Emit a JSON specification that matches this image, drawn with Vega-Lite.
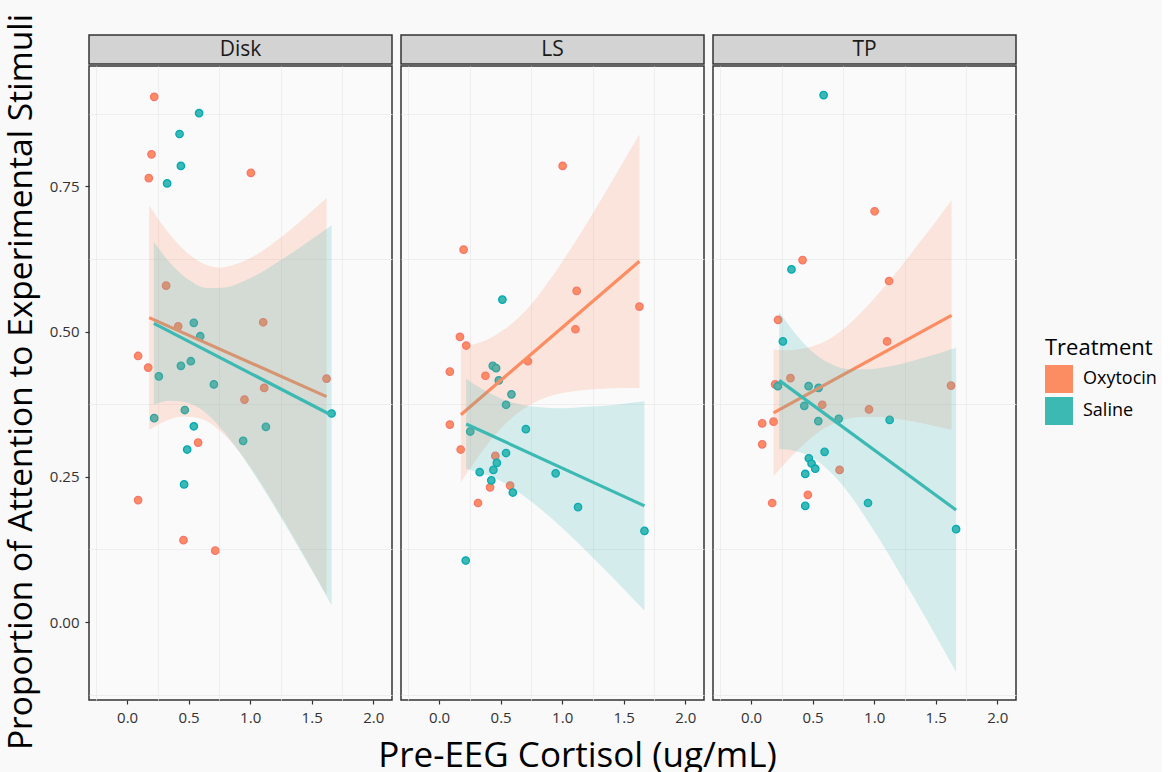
{
  "$schema": "https://vega.github.io/schema/vega-lite/v6.json",
  "background": "#f9f9f9",
  "padding": {"left": 5, "top": 13, "right": 5, "bottom": 2},
  "title": {"text": "Proportion of Attention to Experimental Stimuli", "orient": "left", "anchor": "middle", "fontSize": 33.5, "fontWeight": "normal", "font": "Open Sans", "color": "#000000", "offset": 9, "dx": 22},
  "spacing": 0,
  "datasets": {
    "panels": [{"Panel": "Disk"}, {"Panel": "LS"}, {"Panel": "TP"}],
    "points": [
      {"Panel": "Disk", "Treatment": "Oxytocin", "Cortisol": 0.22, "Attention": 0.904},
      {"Panel": "Disk", "Treatment": "Oxytocin", "Cortisol": 0.198, "Attention": 0.805},
      {"Panel": "Disk", "Treatment": "Oxytocin", "Cortisol": 0.176, "Attention": 0.764},
      {"Panel": "Disk", "Treatment": "Oxytocin", "Cortisol": 1.006, "Attention": 0.773},
      {"Panel": "Disk", "Treatment": "Oxytocin", "Cortisol": 0.317, "Attention": 0.579},
      {"Panel": "Disk", "Treatment": "Oxytocin", "Cortisol": 0.415, "Attention": 0.509},
      {"Panel": "Disk", "Treatment": "Oxytocin", "Cortisol": 1.106, "Attention": 0.516},
      {"Panel": "Disk", "Treatment": "Oxytocin", "Cortisol": 0.089, "Attention": 0.458},
      {"Panel": "Disk", "Treatment": "Oxytocin", "Cortisol": 0.171, "Attention": 0.438},
      {"Panel": "Disk", "Treatment": "Oxytocin", "Cortisol": 1.621, "Attention": 0.419},
      {"Panel": "Disk", "Treatment": "Oxytocin", "Cortisol": 1.114, "Attention": 0.403},
      {"Panel": "Disk", "Treatment": "Oxytocin", "Cortisol": 0.954, "Attention": 0.383},
      {"Panel": "Disk", "Treatment": "Oxytocin", "Cortisol": 0.577, "Attention": 0.309},
      {"Panel": "Disk", "Treatment": "Oxytocin", "Cortisol": 0.089, "Attention": 0.21},
      {"Panel": "Disk", "Treatment": "Oxytocin", "Cortisol": 0.458, "Attention": 0.141},
      {"Panel": "Disk", "Treatment": "Oxytocin", "Cortisol": 0.716, "Attention": 0.123},
      {"Panel": "Disk", "Treatment": "Saline", "Cortisol": 0.585, "Attention": 0.876},
      {"Panel": "Disk", "Treatment": "Saline", "Cortisol": 0.426, "Attention": 0.84},
      {"Panel": "Disk", "Treatment": "Saline", "Cortisol": 0.437, "Attention": 0.785},
      {"Panel": "Disk", "Treatment": "Saline", "Cortisol": 0.325, "Attention": 0.755},
      {"Panel": "Disk", "Treatment": "Saline", "Cortisol": 0.542, "Attention": 0.515},
      {"Panel": "Disk", "Treatment": "Saline", "Cortisol": 0.594, "Attention": 0.492},
      {"Panel": "Disk", "Treatment": "Saline", "Cortisol": 0.437, "Attention": 0.441},
      {"Panel": "Disk", "Treatment": "Saline", "Cortisol": 0.518, "Attention": 0.449},
      {"Panel": "Disk", "Treatment": "Saline", "Cortisol": 0.258, "Attention": 0.423},
      {"Panel": "Disk", "Treatment": "Saline", "Cortisol": 0.705, "Attention": 0.409},
      {"Panel": "Disk", "Treatment": "Saline", "Cortisol": 0.22, "Attention": 0.351},
      {"Panel": "Disk", "Treatment": "Saline", "Cortisol": 0.469, "Attention": 0.365},
      {"Panel": "Disk", "Treatment": "Saline", "Cortisol": 0.542, "Attention": 0.337},
      {"Panel": "Disk", "Treatment": "Saline", "Cortisol": 1.128, "Attention": 0.336},
      {"Panel": "Disk", "Treatment": "Saline", "Cortisol": 0.943, "Attention": 0.312},
      {"Panel": "Disk", "Treatment": "Saline", "Cortisol": 0.488, "Attention": 0.297},
      {"Panel": "Disk", "Treatment": "Saline", "Cortisol": 0.463, "Attention": 0.237},
      {"Panel": "Disk", "Treatment": "Saline", "Cortisol": 1.662, "Attention": 0.359},
      {"Panel": "LS", "Treatment": "Oxytocin", "Cortisol": 1.004, "Attention": 0.785},
      {"Panel": "LS", "Treatment": "Oxytocin", "Cortisol": 0.199, "Attention": 0.641},
      {"Panel": "LS", "Treatment": "Oxytocin", "Cortisol": 1.118, "Attention": 0.57},
      {"Panel": "LS", "Treatment": "Oxytocin", "Cortisol": 1.628, "Attention": 0.543},
      {"Panel": "LS", "Treatment": "Oxytocin", "Cortisol": 1.108, "Attention": 0.504},
      {"Panel": "LS", "Treatment": "Oxytocin", "Cortisol": 0.169, "Attention": 0.491},
      {"Panel": "LS", "Treatment": "Oxytocin", "Cortisol": 0.22, "Attention": 0.476},
      {"Panel": "LS", "Treatment": "Oxytocin", "Cortisol": 0.722, "Attention": 0.449},
      {"Panel": "LS", "Treatment": "Oxytocin", "Cortisol": 0.087, "Attention": 0.431},
      {"Panel": "LS", "Treatment": "Oxytocin", "Cortisol": 0.376, "Attention": 0.424},
      {"Panel": "LS", "Treatment": "Oxytocin", "Cortisol": 0.087, "Attention": 0.34},
      {"Panel": "LS", "Treatment": "Oxytocin", "Cortisol": 0.175, "Attention": 0.297},
      {"Panel": "LS", "Treatment": "Oxytocin", "Cortisol": 0.457, "Attention": 0.286},
      {"Panel": "LS", "Treatment": "Oxytocin", "Cortisol": 0.414, "Attention": 0.232},
      {"Panel": "LS", "Treatment": "Oxytocin", "Cortisol": 0.577, "Attention": 0.235},
      {"Panel": "LS", "Treatment": "Oxytocin", "Cortisol": 0.316, "Attention": 0.205},
      {"Panel": "LS", "Treatment": "Saline", "Cortisol": 0.514, "Attention": 0.555},
      {"Panel": "LS", "Treatment": "Saline", "Cortisol": 0.436, "Attention": 0.441},
      {"Panel": "LS", "Treatment": "Saline", "Cortisol": 0.463, "Attention": 0.437},
      {"Panel": "LS", "Treatment": "Saline", "Cortisol": 0.485, "Attention": 0.416},
      {"Panel": "LS", "Treatment": "Saline", "Cortisol": 0.588, "Attention": 0.392},
      {"Panel": "LS", "Treatment": "Saline", "Cortisol": 0.544, "Attention": 0.374},
      {"Panel": "LS", "Treatment": "Saline", "Cortisol": 0.253, "Attention": 0.328},
      {"Panel": "LS", "Treatment": "Saline", "Cortisol": 0.705, "Attention": 0.332},
      {"Panel": "LS", "Treatment": "Saline", "Cortisol": 0.544, "Attention": 0.291},
      {"Panel": "LS", "Treatment": "Saline", "Cortisol": 0.469, "Attention": 0.274},
      {"Panel": "LS", "Treatment": "Saline", "Cortisol": 0.441, "Attention": 0.262},
      {"Panel": "LS", "Treatment": "Saline", "Cortisol": 0.33, "Attention": 0.258},
      {"Panel": "LS", "Treatment": "Saline", "Cortisol": 0.424, "Attention": 0.244},
      {"Panel": "LS", "Treatment": "Saline", "Cortisol": 0.599, "Attention": 0.223},
      {"Panel": "LS", "Treatment": "Saline", "Cortisol": 0.947, "Attention": 0.256},
      {"Panel": "LS", "Treatment": "Saline", "Cortisol": 1.129, "Attention": 0.198},
      {"Panel": "LS", "Treatment": "Saline", "Cortisol": 1.669, "Attention": 0.157},
      {"Panel": "LS", "Treatment": "Saline", "Cortisol": 0.216, "Attention": 0.106},
      {"Panel": "TP", "Treatment": "Oxytocin", "Cortisol": 1.004, "Attention": 0.707},
      {"Panel": "TP", "Treatment": "Oxytocin", "Cortisol": 0.418, "Attention": 0.623},
      {"Panel": "TP", "Treatment": "Oxytocin", "Cortisol": 1.121, "Attention": 0.587},
      {"Panel": "TP", "Treatment": "Oxytocin", "Cortisol": 0.219, "Attention": 0.52},
      {"Panel": "TP", "Treatment": "Oxytocin", "Cortisol": 1.105, "Attention": 0.483},
      {"Panel": "TP", "Treatment": "Oxytocin", "Cortisol": 0.32, "Attention": 0.42},
      {"Panel": "TP", "Treatment": "Oxytocin", "Cortisol": 0.195, "Attention": 0.409},
      {"Panel": "TP", "Treatment": "Oxytocin", "Cortisol": 1.625, "Attention": 0.407},
      {"Panel": "TP", "Treatment": "Oxytocin", "Cortisol": 0.578, "Attention": 0.374},
      {"Panel": "TP", "Treatment": "Oxytocin", "Cortisol": 0.958, "Attention": 0.366},
      {"Panel": "TP", "Treatment": "Oxytocin", "Cortisol": 0.182, "Attention": 0.345},
      {"Panel": "TP", "Treatment": "Oxytocin", "Cortisol": 0.09, "Attention": 0.342},
      {"Panel": "TP", "Treatment": "Oxytocin", "Cortisol": 0.09, "Attention": 0.306},
      {"Panel": "TP", "Treatment": "Oxytocin", "Cortisol": 0.719, "Attention": 0.262},
      {"Panel": "TP", "Treatment": "Oxytocin", "Cortisol": 0.461, "Attention": 0.219},
      {"Panel": "TP", "Treatment": "Oxytocin", "Cortisol": 0.171, "Attention": 0.205},
      {"Panel": "TP", "Treatment": "Saline", "Cortisol": 0.589, "Attention": 0.907},
      {"Panel": "TP", "Treatment": "Saline", "Cortisol": 0.328, "Attention": 0.607},
      {"Panel": "TP", "Treatment": "Saline", "Cortisol": 0.258, "Attention": 0.483},
      {"Panel": "TP", "Treatment": "Saline", "Cortisol": 0.217, "Attention": 0.406},
      {"Panel": "TP", "Treatment": "Saline", "Cortisol": 0.467, "Attention": 0.406},
      {"Panel": "TP", "Treatment": "Saline", "Cortisol": 0.548, "Attention": 0.403},
      {"Panel": "TP", "Treatment": "Saline", "Cortisol": 0.432, "Attention": 0.372},
      {"Panel": "TP", "Treatment": "Saline", "Cortisol": 0.546, "Attention": 0.346},
      {"Panel": "TP", "Treatment": "Saline", "Cortisol": 0.712, "Attention": 0.35},
      {"Panel": "TP", "Treatment": "Saline", "Cortisol": 1.126, "Attention": 0.348},
      {"Panel": "TP", "Treatment": "Saline", "Cortisol": 0.597, "Attention": 0.293},
      {"Panel": "TP", "Treatment": "Saline", "Cortisol": 0.469, "Attention": 0.282},
      {"Panel": "TP", "Treatment": "Saline", "Cortisol": 0.491, "Attention": 0.273},
      {"Panel": "TP", "Treatment": "Saline", "Cortisol": 0.521, "Attention": 0.264},
      {"Panel": "TP", "Treatment": "Saline", "Cortisol": 0.44, "Attention": 0.255},
      {"Panel": "TP", "Treatment": "Saline", "Cortisol": 0.44, "Attention": 0.2},
      {"Panel": "TP", "Treatment": "Saline", "Cortisol": 0.95, "Attention": 0.205},
      {"Panel": "TP", "Treatment": "Saline", "Cortisol": 1.666, "Attention": 0.16}
    ],
    "bands": [
      {"Panel": "Disk", "Treatment": "Oxytocin", "Cortisol": 0.179, "Lower": 0.331, "Upper": 0.717},
      {"Panel": "Disk", "Treatment": "Oxytocin", "Cortisol": 0.3, "Lower": 0.345, "Upper": 0.68},
      {"Panel": "Disk", "Treatment": "Oxytocin", "Cortisol": 0.45, "Lower": 0.354, "Upper": 0.643},
      {"Panel": "Disk", "Treatment": "Oxytocin", "Cortisol": 0.6, "Lower": 0.35, "Upper": 0.619},
      {"Panel": "Disk", "Treatment": "Oxytocin", "Cortisol": 0.75, "Lower": 0.33, "Upper": 0.61},
      {"Panel": "Disk", "Treatment": "Oxytocin", "Cortisol": 0.9, "Lower": 0.296, "Upper": 0.617},
      {"Panel": "Disk", "Treatment": "Oxytocin", "Cortisol": 1.05, "Lower": 0.252, "Upper": 0.632},
      {"Panel": "Disk", "Treatment": "Oxytocin", "Cortisol": 1.2, "Lower": 0.201, "Upper": 0.654},
      {"Panel": "Disk", "Treatment": "Oxytocin", "Cortisol": 1.35, "Lower": 0.148, "Upper": 0.679},
      {"Panel": "Disk", "Treatment": "Oxytocin", "Cortisol": 1.5, "Lower": 0.092, "Upper": 0.707},
      {"Panel": "Disk", "Treatment": "Oxytocin", "Cortisol": 1.621, "Lower": 0.046, "Upper": 0.73},
      {"Panel": "Disk", "Treatment": "Saline", "Cortisol": 0.217, "Lower": 0.374, "Upper": 0.654},
      {"Panel": "Disk", "Treatment": "Saline", "Cortisol": 0.35, "Lower": 0.381, "Upper": 0.618},
      {"Panel": "Disk", "Treatment": "Saline", "Cortisol": 0.5, "Lower": 0.377, "Upper": 0.589},
      {"Panel": "Disk", "Treatment": "Saline", "Cortisol": 0.65, "Lower": 0.358, "Upper": 0.575},
      {"Panel": "Disk", "Treatment": "Saline", "Cortisol": 0.8, "Lower": 0.324, "Upper": 0.576},
      {"Panel": "Disk", "Treatment": "Saline", "Cortisol": 0.95, "Lower": 0.281, "Upper": 0.587},
      {"Panel": "Disk", "Treatment": "Saline", "Cortisol": 1.1, "Lower": 0.232, "Upper": 0.603},
      {"Panel": "Disk", "Treatment": "Saline", "Cortisol": 1.25, "Lower": 0.18, "Upper": 0.623},
      {"Panel": "Disk", "Treatment": "Saline", "Cortisol": 1.4, "Lower": 0.126, "Upper": 0.644},
      {"Panel": "Disk", "Treatment": "Saline", "Cortisol": 1.55, "Lower": 0.071, "Upper": 0.666},
      {"Panel": "Disk", "Treatment": "Saline", "Cortisol": 1.662, "Lower": 0.029, "Upper": 0.683},
      {"Panel": "LS", "Treatment": "Oxytocin", "Cortisol": 0.177, "Lower": 0.241, "Upper": 0.473},
      {"Panel": "LS", "Treatment": "Oxytocin", "Cortisol": 0.3, "Lower": 0.279, "Upper": 0.479},
      {"Panel": "LS", "Treatment": "Oxytocin", "Cortisol": 0.45, "Lower": 0.321, "Upper": 0.493},
      {"Panel": "LS", "Treatment": "Oxytocin", "Cortisol": 0.6, "Lower": 0.353, "Upper": 0.515},
      {"Panel": "LS", "Treatment": "Oxytocin", "Cortisol": 0.75, "Lower": 0.375, "Upper": 0.547},
      {"Panel": "LS", "Treatment": "Oxytocin", "Cortisol": 0.9, "Lower": 0.389, "Upper": 0.589},
      {"Panel": "LS", "Treatment": "Oxytocin", "Cortisol": 1.05, "Lower": 0.396, "Upper": 0.636},
      {"Panel": "LS", "Treatment": "Oxytocin", "Cortisol": 1.2, "Lower": 0.4, "Upper": 0.686},
      {"Panel": "LS", "Treatment": "Oxytocin", "Cortisol": 1.35, "Lower": 0.402, "Upper": 0.739},
      {"Panel": "LS", "Treatment": "Oxytocin", "Cortisol": 1.5, "Lower": 0.403, "Upper": 0.793},
      {"Panel": "LS", "Treatment": "Oxytocin", "Cortisol": 1.628, "Lower": 0.403, "Upper": 0.839},
      {"Panel": "LS", "Treatment": "Saline", "Cortisol": 0.22, "Lower": 0.264, "Upper": 0.419},
      {"Panel": "LS", "Treatment": "Saline", "Cortisol": 0.35, "Lower": 0.256, "Upper": 0.401},
      {"Panel": "LS", "Treatment": "Saline", "Cortisol": 0.5, "Lower": 0.243, "Upper": 0.385},
      {"Panel": "LS", "Treatment": "Saline", "Cortisol": 0.65, "Lower": 0.223, "Upper": 0.375},
      {"Panel": "LS", "Treatment": "Saline", "Cortisol": 0.8, "Lower": 0.199, "Upper": 0.37},
      {"Panel": "LS", "Treatment": "Saline", "Cortisol": 0.95, "Lower": 0.172, "Upper": 0.368},
      {"Panel": "LS", "Treatment": "Saline", "Cortisol": 1.1, "Lower": 0.142, "Upper": 0.369},
      {"Panel": "LS", "Treatment": "Saline", "Cortisol": 1.25, "Lower": 0.111, "Upper": 0.371},
      {"Panel": "LS", "Treatment": "Saline", "Cortisol": 1.4, "Lower": 0.079, "Upper": 0.373},
      {"Panel": "LS", "Treatment": "Saline", "Cortisol": 1.55, "Lower": 0.046, "Upper": 0.377},
      {"Panel": "LS", "Treatment": "Saline", "Cortisol": 1.669, "Lower": 0.02, "Upper": 0.38},
      {"Panel": "TP", "Treatment": "Oxytocin", "Cortisol": 0.182, "Lower": 0.251, "Upper": 0.469},
      {"Panel": "TP", "Treatment": "Oxytocin", "Cortisol": 0.3, "Lower": 0.279, "Upper": 0.468},
      {"Panel": "TP", "Treatment": "Oxytocin", "Cortisol": 0.45, "Lower": 0.31, "Upper": 0.472},
      {"Panel": "TP", "Treatment": "Oxytocin", "Cortisol": 0.6, "Lower": 0.334, "Upper": 0.483},
      {"Panel": "TP", "Treatment": "Oxytocin", "Cortisol": 0.75, "Lower": 0.348, "Upper": 0.504},
      {"Panel": "TP", "Treatment": "Oxytocin", "Cortisol": 0.9, "Lower": 0.353, "Upper": 0.534},
      {"Panel": "TP", "Treatment": "Oxytocin", "Cortisol": 1.05, "Lower": 0.353, "Upper": 0.569},
      {"Panel": "TP", "Treatment": "Oxytocin", "Cortisol": 1.2, "Lower": 0.349, "Upper": 0.607},
      {"Panel": "TP", "Treatment": "Oxytocin", "Cortisol": 1.35, "Lower": 0.344, "Upper": 0.648},
      {"Panel": "TP", "Treatment": "Oxytocin", "Cortisol": 1.5, "Lower": 0.337, "Upper": 0.689},
      {"Panel": "TP", "Treatment": "Oxytocin", "Cortisol": 1.629, "Lower": 0.331, "Upper": 0.726},
      {"Panel": "TP", "Treatment": "Saline", "Cortisol": 0.228, "Lower": 0.298, "Upper": 0.534},
      {"Panel": "TP", "Treatment": "Saline", "Cortisol": 0.35, "Lower": 0.295, "Upper": 0.499},
      {"Panel": "TP", "Treatment": "Saline", "Cortisol": 0.5, "Lower": 0.283, "Upper": 0.465},
      {"Panel": "TP", "Treatment": "Saline", "Cortisol": 0.65, "Lower": 0.257, "Upper": 0.444},
      {"Panel": "TP", "Treatment": "Saline", "Cortisol": 0.8, "Lower": 0.22, "Upper": 0.435},
      {"Panel": "TP", "Treatment": "Saline", "Cortisol": 0.95, "Lower": 0.173, "Upper": 0.435},
      {"Panel": "TP", "Treatment": "Saline", "Cortisol": 1.1, "Lower": 0.123, "Upper": 0.439},
      {"Panel": "TP", "Treatment": "Saline", "Cortisol": 1.25, "Lower": 0.069, "Upper": 0.446},
      {"Panel": "TP", "Treatment": "Saline", "Cortisol": 1.4, "Lower": 0.014, "Upper": 0.455},
      {"Panel": "TP", "Treatment": "Saline", "Cortisol": 1.55, "Lower": -0.042, "Upper": 0.464},
      {"Panel": "TP", "Treatment": "Saline", "Cortisol": 1.666, "Lower": -0.086, "Upper": 0.472}
    ],
    "lines": [
      {"Panel": "Disk", "Treatment": "Oxytocin", "Cortisol": 0.179, "Fit": 0.524},
      {"Panel": "Disk", "Treatment": "Oxytocin", "Cortisol": 1.621, "Fit": 0.388},
      {"Panel": "Disk", "Treatment": "Saline", "Cortisol": 0.217, "Fit": 0.514},
      {"Panel": "Disk", "Treatment": "Saline", "Cortisol": 1.662, "Fit": 0.356},
      {"Panel": "LS", "Treatment": "Oxytocin", "Cortisol": 0.177, "Fit": 0.357},
      {"Panel": "LS", "Treatment": "Oxytocin", "Cortisol": 1.628, "Fit": 0.621},
      {"Panel": "LS", "Treatment": "Saline", "Cortisol": 0.22, "Fit": 0.341},
      {"Panel": "LS", "Treatment": "Saline", "Cortisol": 1.669, "Fit": 0.2},
      {"Panel": "TP", "Treatment": "Oxytocin", "Cortisol": 0.182, "Fit": 0.36},
      {"Panel": "TP", "Treatment": "Oxytocin", "Cortisol": 1.629, "Fit": 0.528},
      {"Panel": "TP", "Treatment": "Saline", "Cortisol": 0.228, "Fit": 0.416},
      {"Panel": "TP", "Treatment": "Saline", "Cortisol": 1.666, "Fit": 0.193}
    ]
  },
  "resolve": {"scale": {"color": "shared", "stroke": "shared"}, "legend": {"color": "shared"}},
  "vconcat": [
    {
      "spacing": 9,
      "bounds": "flush",
      "hconcat": [
        {
          "width": 303, "height": 29,
          "view": {"fill": "#d3d3d3", "stroke": "#333333", "strokeWidth": 1.5},
          "data": {"name": "panels"},
          "transform": [{"filter": "datum.Panel === 'Disk'"}],
          "mark": {"type": "text", "fontSize": 21, "color": "#1a1a1a"},
          "encoding": {"text": {"field": "Panel", "type": "nominal"}}
        },
        {
          "width": 303, "height": 29,
          "view": {"fill": "#d3d3d3", "stroke": "#333333", "strokeWidth": 1.5},
          "data": {"name": "panels"},
          "transform": [{"filter": "datum.Panel === 'LS'"}],
          "mark": {"type": "text", "fontSize": 21, "color": "#1a1a1a"},
          "encoding": {"text": {"field": "Panel", "type": "nominal"}}
        },
        {
          "width": 303, "height": 29,
          "view": {"fill": "#d3d3d3", "stroke": "#333333", "strokeWidth": 1.5},
          "data": {"name": "panels"},
          "transform": [{"filter": "datum.Panel === 'TP'"}],
          "mark": {"type": "text", "fontSize": 21, "color": "#1a1a1a"},
          "encoding": {"text": {"field": "Panel", "type": "nominal"}}
        }
      ]
    },
    {
      "spacing": 9,
      "bounds": "flush",
      "resolve": {"scale": {"color": "shared", "stroke": "shared"}},
      "hconcat": [
        {
          "width": 303, "height": 634,
          "resolve": {"axis": {"x": "independent", "y": "independent"}},
          "layer": [
            {
              "data": {"name": "points"},
              "transform": [{"filter": "datum.Panel === 'Disk'"}],
              "mark": {"type": "point", "filled": true, "opacity": 1, "size": 55, "strokeWidth": 1.3},
              "encoding": {
                "x": {"field": "Cortisol", "type": "quantitative", "scale": {"domain": [-0.31, 2.153], "zero": false, "nice": false},
                  "axis": {"orient": "bottom", "title": null, "values": [-0.25, 0.25, 0.75, 1.25, 1.75], "labels": false, "ticks": false, "gridWidth": 0.8, "gridColor": "#ebebeb"}},
                "y": {"field": "Attention", "type": "quantitative", "scale": {"domain": [-0.134, 0.957], "zero": false, "nice": false},
                  "axis": {"orient": "left", "title": null, "values": [-0.125, 0.125, 0.375, 0.625, 0.875], "labels": false, "ticks": false, "gridWidth": 0.8, "gridColor": "#ebebeb"}},
                "color": {"field": "Treatment", "type": "nominal", "scale": {"domain": ["Oxytocin", "Saline"], "range": ["#fc8d62", "#3cb9b3"]},
                  "legend": {"title": "Treatment", "orient": "none", "legendX": 956, "legendY": 303, "symbolType": "square", "symbolSize": 784,
                    "symbolStrokeWidth": 0, "symbolOpacity": 1, "titleFontSize": 22, "titleFontWeight": "normal", "titleColor": "#000000",
                    "labelFontSize": 18, "labelColor": "#000000", "rowPadding": 4, "titlePadding": 5, "labelOffset": 10}},
                "stroke": {"field": "Treatment", "type": "nominal", "scale": {"domain": ["Oxytocin", "Saline"], "range": ["#f8766d", "#00a9b3"]}, "legend": null}
              }
            },
            {
              "data": {"name": "bands"},
              "transform": [{"filter": "datum.Panel === 'Disk' && datum.Treatment === 'Oxytocin'"}],
              "mark": {"type": "area", "opacity": 0.2, "interpolate": "monotone"},
              "encoding": {
                "x": {"field": "Cortisol", "type": "quantitative", "axis": {"orient": "bottom", "title": null, "values": [0, 0.5, 1, 1.5, 2], "format": ".1f", "gridWidth": 1.6, "gridColor": "#dddddd"}},
                "y": {"field": "Lower", "type": "quantitative", "axis": {"orient": "left", "title": null, "values": [0, 0.25, 0.5, 0.75], "format": ".2f", "gridWidth": 1.6, "gridColor": "#dddddd"}},
                "y2": {"field": "Upper"},
                "color": {"field": "Treatment", "type": "nominal", "legend": null}}
            },
            {
              "data": {"name": "lines"},
              "transform": [{"filter": "datum.Panel === 'Disk' && datum.Treatment === 'Oxytocin'"}],
              "mark": {"type": "line", "strokeWidth": 3.2},
              "encoding": {"x": {"field": "Cortisol", "type": "quantitative", "axis": null}, "y": {"field": "Fit", "type": "quantitative", "axis": null},
                "color": {"field": "Treatment", "type": "nominal", "legend": null}}
            },
            {
              "data": {"name": "bands"},
              "transform": [{"filter": "datum.Panel === 'Disk' && datum.Treatment === 'Saline'"}],
              "mark": {"type": "area", "opacity": 0.2, "interpolate": "monotone"},
              "encoding": {"x": {"field": "Cortisol", "type": "quantitative", "axis": null}, "y": {"field": "Lower", "type": "quantitative", "axis": null}, "y2": {"field": "Upper"},
                "color": {"field": "Treatment", "type": "nominal", "legend": null}}
            },
            {
              "data": {"name": "lines"},
              "transform": [{"filter": "datum.Panel === 'Disk' && datum.Treatment === 'Saline'"}],
              "mark": {"type": "line", "strokeWidth": 3.2},
              "encoding": {"x": {"field": "Cortisol", "type": "quantitative", "axis": null}, "y": {"field": "Fit", "type": "quantitative", "axis": null},
                "color": {"field": "Treatment", "type": "nominal", "legend": null}}
            }
          ]
        },
        {
          "width": 303, "height": 634,
          "resolve": {"axis": {"x": "independent", "y": "independent"}},
          "layer": [
            {
              "data": {"name": "points"},
              "transform": [{"filter": "datum.Panel === 'LS'"}],
              "mark": {"type": "point", "filled": true, "opacity": 1, "size": 55, "strokeWidth": 1.3},
              "encoding": {
                "x": {"field": "Cortisol", "type": "quantitative", "scale": {"domain": [-0.31, 2.153], "zero": false, "nice": false},
                  "axis": {"orient": "bottom", "title": null, "values": [-0.25, 0.25, 0.75, 1.25, 1.75], "labels": false, "ticks": false, "gridWidth": 0.8, "gridColor": "#ebebeb"}},
                "y": {"field": "Attention", "type": "quantitative", "scale": {"domain": [-0.134, 0.957], "zero": false, "nice": false},
                  "axis": {"orient": "left", "title": null, "values": [-0.125, 0.125, 0.375, 0.625, 0.875], "labels": false, "ticks": false, "gridWidth": 0.8, "gridColor": "#ebebeb"}},
                "color": {"field": "Treatment", "type": "nominal", "scale": {"domain": ["Oxytocin", "Saline"], "range": ["#fc8d62", "#3cb9b3"]}, "legend": null},
                "stroke": {"field": "Treatment", "type": "nominal", "scale": {"domain": ["Oxytocin", "Saline"], "range": ["#f8766d", "#00a9b3"]}, "legend": null}
              }
            },
            {
              "data": {"name": "bands"},
              "transform": [{"filter": "datum.Panel === 'LS' && datum.Treatment === 'Oxytocin'"}],
              "mark": {"type": "area", "opacity": 0.2, "interpolate": "monotone"},
              "encoding": {
                "x": {"field": "Cortisol", "type": "quantitative", "axis": {"orient": "bottom", "title": "Pre-EEG Cortisol (ug/mL)", "titleFontSize": 35, "titlePadding": 13, "titleX": 176,
                  "values": [0, 0.5, 1, 1.5, 2], "format": ".1f", "gridWidth": 1.6, "gridColor": "#dddddd"}},
                "y": {"field": "Lower", "type": "quantitative", "axis": {"orient": "left", "title": null, "values": [0, 0.25, 0.5, 0.75], "labels": false, "ticks": false, "gridWidth": 1.6, "gridColor": "#dddddd"}},
                "y2": {"field": "Upper"},
                "color": {"field": "Treatment", "type": "nominal", "legend": null}}
            },
            {
              "data": {"name": "lines"},
              "transform": [{"filter": "datum.Panel === 'LS' && datum.Treatment === 'Oxytocin'"}],
              "mark": {"type": "line", "strokeWidth": 3.2},
              "encoding": {"x": {"field": "Cortisol", "type": "quantitative", "axis": null}, "y": {"field": "Fit", "type": "quantitative", "axis": null},
                "color": {"field": "Treatment", "type": "nominal", "legend": null}}
            },
            {
              "data": {"name": "bands"},
              "transform": [{"filter": "datum.Panel === 'LS' && datum.Treatment === 'Saline'"}],
              "mark": {"type": "area", "opacity": 0.2, "interpolate": "monotone"},
              "encoding": {"x": {"field": "Cortisol", "type": "quantitative", "axis": null}, "y": {"field": "Lower", "type": "quantitative", "axis": null}, "y2": {"field": "Upper"},
                "color": {"field": "Treatment", "type": "nominal", "legend": null}}
            },
            {
              "data": {"name": "lines"},
              "transform": [{"filter": "datum.Panel === 'LS' && datum.Treatment === 'Saline'"}],
              "mark": {"type": "line", "strokeWidth": 3.2},
              "encoding": {"x": {"field": "Cortisol", "type": "quantitative", "axis": null}, "y": {"field": "Fit", "type": "quantitative", "axis": null},
                "color": {"field": "Treatment", "type": "nominal", "legend": null}}
            }
          ]
        },
        {
          "width": 303, "height": 634,
          "resolve": {"axis": {"x": "independent", "y": "independent"}},
          "layer": [
            {
              "data": {"name": "points"},
              "transform": [{"filter": "datum.Panel === 'TP'"}],
              "mark": {"type": "point", "filled": true, "opacity": 1, "size": 55, "strokeWidth": 1.3},
              "encoding": {
                "x": {"field": "Cortisol", "type": "quantitative", "scale": {"domain": [-0.31, 2.153], "zero": false, "nice": false},
                  "axis": {"orient": "bottom", "title": null, "values": [-0.25, 0.25, 0.75, 1.25, 1.75], "labels": false, "ticks": false, "gridWidth": 0.8, "gridColor": "#ebebeb"}},
                "y": {"field": "Attention", "type": "quantitative", "scale": {"domain": [-0.134, 0.957], "zero": false, "nice": false},
                  "axis": {"orient": "left", "title": null, "values": [-0.125, 0.125, 0.375, 0.625, 0.875], "labels": false, "ticks": false, "gridWidth": 0.8, "gridColor": "#ebebeb"}},
                "color": {"field": "Treatment", "type": "nominal", "scale": {"domain": ["Oxytocin", "Saline"], "range": ["#fc8d62", "#3cb9b3"]}, "legend": null},
                "stroke": {"field": "Treatment", "type": "nominal", "scale": {"domain": ["Oxytocin", "Saline"], "range": ["#f8766d", "#00a9b3"]}, "legend": null}
              }
            },
            {
              "data": {"name": "bands"},
              "transform": [{"filter": "datum.Panel === 'TP' && datum.Treatment === 'Oxytocin'"}],
              "mark": {"type": "area", "opacity": 0.2, "interpolate": "monotone"},
              "encoding": {
                "x": {"field": "Cortisol", "type": "quantitative", "axis": {"orient": "bottom", "title": null, "values": [0, 0.5, 1, 1.5, 2], "format": ".1f", "gridWidth": 1.6, "gridColor": "#dddddd"}},
                "y": {"field": "Lower", "type": "quantitative", "axis": {"orient": "left", "title": null, "values": [0, 0.25, 0.5, 0.75], "labels": false, "ticks": false, "gridWidth": 1.6, "gridColor": "#dddddd"}},
                "y2": {"field": "Upper"},
                "color": {"field": "Treatment", "type": "nominal", "legend": null}}
            },
            {
              "data": {"name": "lines"},
              "transform": [{"filter": "datum.Panel === 'TP' && datum.Treatment === 'Oxytocin'"}],
              "mark": {"type": "line", "strokeWidth": 3.2},
              "encoding": {"x": {"field": "Cortisol", "type": "quantitative", "axis": null}, "y": {"field": "Fit", "type": "quantitative", "axis": null},
                "color": {"field": "Treatment", "type": "nominal", "legend": null}}
            },
            {
              "data": {"name": "bands"},
              "transform": [{"filter": "datum.Panel === 'TP' && datum.Treatment === 'Saline'"}],
              "mark": {"type": "area", "opacity": 0.2, "interpolate": "monotone"},
              "encoding": {"x": {"field": "Cortisol", "type": "quantitative", "axis": null}, "y": {"field": "Lower", "type": "quantitative", "axis": null}, "y2": {"field": "Upper"},
                "color": {"field": "Treatment", "type": "nominal", "legend": null}}
            },
            {
              "data": {"name": "lines"},
              "transform": [{"filter": "datum.Panel === 'TP' && datum.Treatment === 'Saline'"}],
              "mark": {"type": "line", "strokeWidth": 3.2},
              "encoding": {"x": {"field": "Cortisol", "type": "quantitative", "axis": null}, "y": {"field": "Fit", "type": "quantitative", "axis": null},
                "color": {"field": "Treatment", "type": "nominal", "legend": null}}
            }
          ]
        }
      ]
    }
  ],
  "config": {
    "font": "Open Sans",
    "view": {"fill": "#fafafa", "stroke": "#333333", "strokeWidth": 1.5},
    "axis": {"domain": false, "labelFont": "Open Sans", "labelFontSize": 15, "labelColor": "#333333", "labelPadding": 6,
      "labelOverlap": false, "labelFlush": false, "tickColor": "#333333", "tickSize": 4, "tickWidth": 1.2,
      "titleFont": "Open Sans", "titleFontWeight": "normal", "titleColor": "#000000"},
    "legend": {"labelFont": "Open Sans", "titleFont": "Open Sans"}
  }
}
